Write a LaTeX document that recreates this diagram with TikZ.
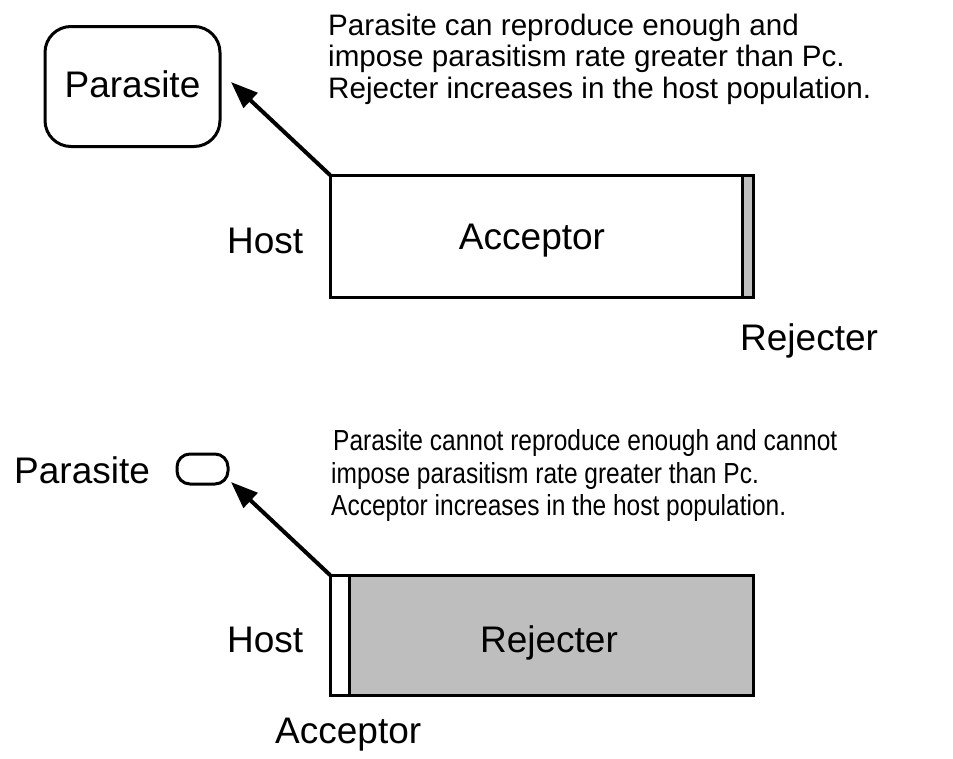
\documentclass[tikz,border=0pt]{standalone}
\usepackage{fontspec}
\setmainfont{Liberation Sans}
\usetikzlibrary{arrows.meta}
\definecolor{boxgrey}{RGB}{190,190,190}
\tikzset{
  big/.style={font=\fontsize{37}{40}\selectfont, inner sep=0pt},
  small/.style={font=\fontsize{29.6}{32}\selectfont, inner sep=0pt, anchor=base west},
  narrow/.style={font=\fontsize{29}{32}\selectfont, inner sep=0pt, anchor=base west},
  hostbox/.style={draw, line width=3pt, inner sep=0pt, outer sep=0pt},
  parbox/.style={draw, line width=3pt, inner sep=0pt, outer sep=0pt},
  arr/.style={line width=4pt, -{Triangle[length=27pt,width=20pt]}},
}
\begin{document}
\begin{tikzpicture}[x=1pt,y=-1pt]
\useasboundingbox (0,0) rectangle (953,758);
% ---------- top panel ----------
\node[parbox, rounded corners=26pt, minimum width=175pt, minimum height=120pt] (paraA) at (132.5,86.5) {};
\node[big, anchor=base] (paraAtxt) at (132.5,97) {Parasite};
\node[hostbox, minimum width=412pt, minimum height=122pt] (accA) at (536,236) {};
\node[hostbox, fill=boxgrey, minimum width=11pt, minimum height=122pt] (rejA) at (747.5,236) {};
\node[big, anchor=base] (accAtxt) at (532,249) {Acceptor};
\node[big, anchor=base west] (hostA) at (227,253) {Host};
\node[big, anchor=base west] (rejAlbl) at (740,350) {Rejecter};
\coordinate (tipA) at (231,82);
\draw[arr] (accA.north west) -- (tipA);
\node[small] (tA1) at (328,35) {Parasite can reproduce enough and};
\node[small] (tA2) at (328,66) {impose parasitism rate greater than Pc.};
\node[small] (tA3) at (328,98) {Rejecter increases in the host population.};
% ---------- bottom panel ----------
\node[parbox, rounded corners=13pt, minimum width=51pt, minimum height=30pt] (paraB) at (202.5,469) {};
\node[big, anchor=base west] (paraBtxt) at (14,483) {Parasite};
\node[hostbox, minimum width=19pt, minimum height=120pt] (accB) at (339.5,635) {};
\node[hostbox, fill=boxgrey, minimum width=404pt, minimum height=120pt] (rejB) at (551,635) {};
\node[big, anchor=base] (rejBtxt) at (549,652) {Rejecter};
\node[big, anchor=base west] (hostB) at (227,652) {Host};
\node[big, anchor=base west] (accBlbl) at (275,743) {Acceptor};
\coordinate (tipB) at (231,482);
\draw[arr] (accB.north west) -- (tipB);
\node[narrow] (tB1) at (333,450) {\scalebox{0.845}[1]{Parasite cannot reproduce enough and cannot}};
\node[narrow] (tB2) at (331,483) {\scalebox{0.845}[1]{impose parasitism rate greater than Pc.}};
\node[narrow] (tB3) at (331,515) {\scalebox{0.845}[1]{Acceptor increases in the host population.}};
\end{tikzpicture}
\end{document}
